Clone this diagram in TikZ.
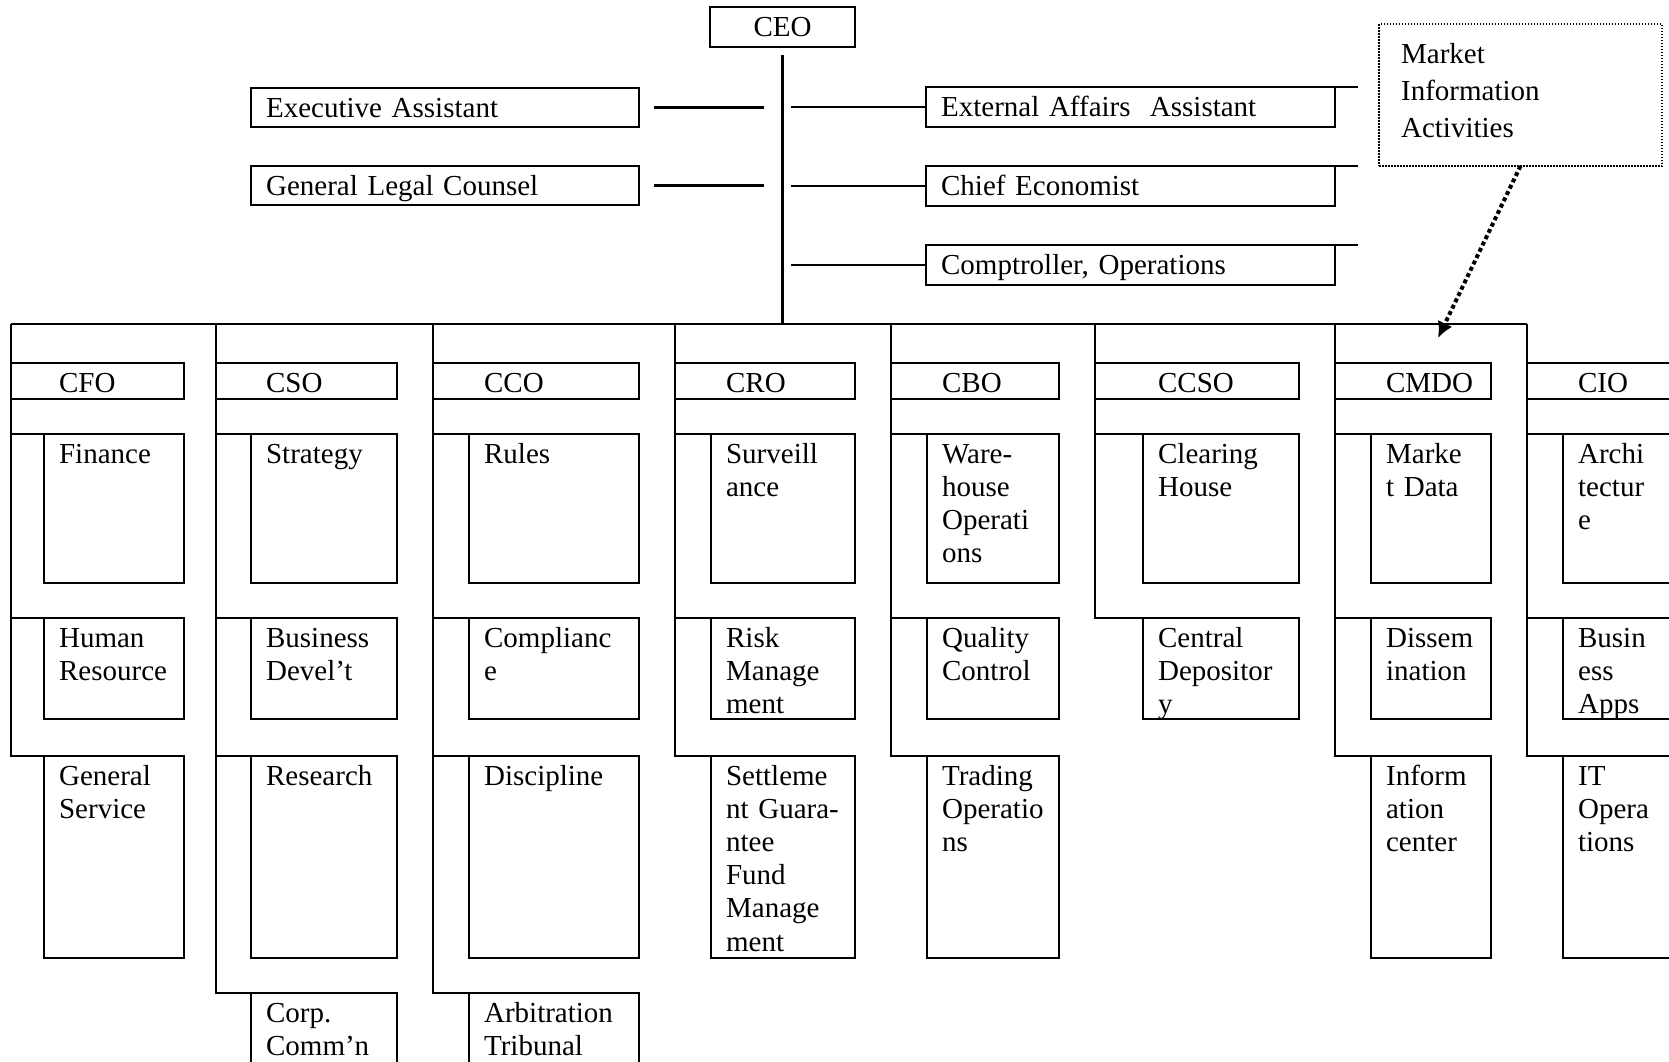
\documentclass[tikz,border=0pt]{standalone}
\usepackage{fontspec}
\setmainfont{Liberation Serif}
\usetikzlibrary{arrows.meta}

\begin{document}
\begin{tikzpicture}[x=0.5pt,y=-0.5pt,line width=1.1pt,
    unit/.style={draw,rectangle,anchor=north west,inner sep=0pt,outer sep=0pt},
    txt/.style={anchor=base west,inner sep=0pt,text width=10cm,align=left,font=\fontsize{14.5}{16.6}\selectfont},
    sub/.style={txt,xshift=7pt,yshift=-14.5pt},
    staff/.style={unit,minimum width=194pt,minimum height=19.5pt},
    aside/.style={unit,minimum width=204.5pt,minimum height=20pt},
    head/.style={unit,minimum height=18pt},
    rowa/.style={unit,minimum height=74.5pt},
    rowb/.style={unit,minimum height=50.5pt},
    rowc/.style={unit,minimum height=101pt},
    rowd/.style={unit,minimum height=75pt},
    note/.style={unit,line width=0.75pt,dash pattern=on 0.75pt off 0.75pt,minimum width=141.5pt,minimum height=71pt},
    pointer/.style={line width=2pt,dash pattern=on 2pt off 1.5pt,-{Latex[length=8pt,width=8pt]}}]
    \useasboundingbox (0,0) rectangle (1669,1061);
    \clip (0,0) rectangle (1669,1061);

    % top of the chart
    \node[unit,anchor=north west,minimum width=72.5pt,minimum height=20pt,font=\fontsize{14.5}{16.6}\selectfont] (ceo) at (710,7) {CEO};
    \node[staff,label={[sub]north west:{Executive Assistant}}] (ea) at (251,88) {};
    \node[staff,label={[sub]north west:{General Legal Counsel}}] (glc) at (251,166) {};
    \node[aside,label={[sub]north west:{External Affairs~ Assistant}}] (eaa) at (926,87) {};
    \node[aside,label={[sub]north west:{Chief Economist}}] (ce) at (926,166) {};
    \node[aside,label={[sub]north west:{Comptroller, Operations}}] (cop) at (926,245) {};
    \node[note,label={[txt,font=\fontsize{14.5}{18.5}\selectfont,xshift=10.5pt,yshift=-19.5pt]north west:{Market\\Information\\Activities}}] (mia) at (1379,24) {};
    \coordinate (bus) at (0,324);
    \coordinate (mdtip) at (1438,338);

    % chiefs
    \node[head,minimum width=86.5pt,label={[txt,xshift=23.5pt,yshift=-14.5pt]north west:CFO}] (cfo) at (11,363) {};
    \node[head,minimum width=90.5pt,label={[txt,xshift=24.5pt,yshift=-14.5pt]north west:CSO}] (cso) at (216,363) {};
    \node[head,minimum width=103pt,label={[txt,xshift=25pt,yshift=-14.5pt]north west:CCO}] (cco) at (433,363) {};
    \node[head,minimum width=90pt,label={[txt,xshift=25pt,yshift=-14.5pt]north west:CRO}] (cro) at (675,363) {};
    \node[head,minimum width=84pt,label={[txt,xshift=25pt,yshift=-14.5pt]north west:CBO}] (cbo) at (891,363) {};
    \node[head,minimum width=102pt,label={[txt,xshift=31pt,yshift=-14.5pt]north west:CCSO}] (ccso) at (1095,363) {};
    \node[head,minimum width=78pt,label={[txt,xshift=25pt,yshift=-14.5pt]north west:CMDO}] (cmdo) at (1335,363) {};
    \node[head,minimum width=100pt,label={[txt,xshift=25pt,yshift=-14.5pt]north west:CIO}] (cio) at (1527,363) {};

    % units under the CFO
    \node[rowa,minimum width=70pt,label={[sub]north west:Finance}] (fin) at (44,434) {};
    \node[rowb,minimum width=70pt,label={[sub]north west:{Human\\Resource}}] (hr) at (44,618) {};
    \node[rowc,minimum width=70pt,label={[sub]north west:{General\\Service}}] (gs) at (44,756) {};

    % units under the CSO
    \node[rowa,minimum width=73pt,label={[sub]north west:Strategy}] (strat) at (251,434) {};
    \node[rowb,minimum width=73pt,label={[sub]north west:{Business\\Devel't}}] (bd) at (251,618) {};
    \node[rowc,minimum width=73pt,label={[sub]north west:Research}] (res) at (251,756) {};
    \node[rowd,minimum width=73pt,label={[sub]north west:{Corp.\\Comm'n}}] (cc) at (251,993) {};

    % units under the CCO
    \node[rowa,minimum width=85pt,label={[sub]north west:Rules}] (rules) at (469,434) {};
    \node[rowb,minimum width=85pt,label={[sub]north west:{Complianc\\e}}] (comp) at (469,618) {};
    \node[rowc,minimum width=85pt,label={[sub]north west:Discipline}] (disc) at (469,756) {};
    \node[rowd,minimum width=85pt,label={[sub]north west:{Arbitration\\Tribunal}}] (arb) at (469,993) {};

    % units under the CRO
    \node[rowa,minimum width=72pt,label={[sub]north west:{Surveill\\ance}}] (surv) at (711,434) {};
    \node[rowb,minimum width=72pt,label={[sub]north west:{Risk\\Manage\\ment}}] (risk) at (711,618) {};
    \node[rowc,minimum width=72pt,label={[sub]north west:{Settleme\\nt Guara-\\ntee\\Fund\\Manage\\ment}}] (sgf) at (711,756) {};

    % units under the CBO
    \node[rowa,minimum width=66pt,label={[sub]north west:{Ware-\\house\\Operati\\ons}}] (ware) at (927,434) {};
    \node[rowb,minimum width=66pt,label={[sub]north west:{Quality\\Control}}] (qc) at (927,618) {};
    \node[rowc,minimum width=66pt,label={[sub]north west:{Trading\\Operatio\\ns}}] (trad) at (927,756) {};

    % units under the CCSO
    \node[rowa,minimum width=78pt,label={[sub]north west:{Clearing\\House}}] (clear) at (1143,434) {};
    \node[rowb,minimum width=78pt,label={[sub]north west:{Central\\Depositor\\y}}] (cd) at (1143,618) {};

    % units under the CMDO
    \node[rowa,minimum width=60pt,label={[sub]north west:{Marke\\t Data}}] (mdata) at (1371,434) {};
    \node[rowb,minimum width=60pt,label={[sub]north west:{Dissem\\ination}}] (diss) at (1371,618) {};
    \node[rowc,minimum width=60pt,label={[sub]north west:{Inform\\ation\\center}}] (info) at (1371,756) {};

    % units under the CIO
    \node[rowa,minimum width=100pt,label={[sub]north west:{Archi\\tectur\\e}}] (arch) at (1563,434) {};
    \node[rowb,minimum width=100pt,label={[sub]north west:{Busin\\ess\\Apps}}] (bapps) at (1563,618) {};
    \node[rowc,minimum width=100pt,label={[sub]north west:{IT\\Opera\\tions}}] (itops) at (1563,756) {};

    % lines from the CEO
    \draw ([yshift=-4pt]ceo.south) -- (ceo.south |- bus);
    \draw ([xshift=7.5pt]ea.east) -- ([xshift=62.5pt]ea.east);
    \draw ([xshift=7.5pt]glc.east) -- ([xshift=62.5pt]glc.east);
    \draw ([xshift=-67.5pt]eaa.west) -- (eaa.west);
    \draw ([xshift=-67.5pt]ce.west) -- (ce.west);
    \draw ([xshift=-67.5pt]cop.west) -- (cop.west);
    \draw (eaa.north east) -- ([xshift=11.5pt]eaa.north east);
    \draw (ce.north east) -- ([xshift=11.5pt]ce.north east);
    \draw (cop.north east) -- ([xshift=11.5pt]cop.north east);
    \draw[pointer] (mia.south) -- (mdtip);
    \draw (cfo.north west |- bus) -- (cio.north west |- bus);

    % columns
    \draw (cfo.north west |- bus) |- (gs.north west);
    \draw (cfo.north west |- fin.north) -- (fin.north west);
    \draw (cfo.north west |- hr.north) -- (hr.north west);

    \draw (cso.north west |- bus) |- (cc.north west);
    \draw (cso.north west |- strat.north) -- (strat.north west);
    \draw (cso.north west |- bd.north) -- (bd.north west);
    \draw (cso.north west |- res.north) -- (res.north west);

    \draw (cco.north west |- bus) |- (arb.north west);
    \draw (cco.north west |- rules.north) -- (rules.north west);
    \draw (cco.north west |- comp.north) -- (comp.north west);
    \draw (cco.north west |- disc.north) -- (disc.north west);

    \draw (cro.north west |- bus) |- (sgf.north west);
    \draw (cro.north west |- surv.north) -- (surv.north west);
    \draw (cro.north west |- risk.north) -- (risk.north west);

    \draw (cbo.north west |- bus) |- (trad.north west);
    \draw (cbo.north west |- ware.north) -- (ware.north west);
    \draw (cbo.north west |- qc.north) -- (qc.north west);

    \draw (ccso.north west |- bus) |- (cd.north west);
    \draw (ccso.north west |- clear.north) -- (clear.north west);

    \draw (cmdo.north west |- bus) |- (info.north west);
    \draw (cmdo.north west |- mdata.north) -- (mdata.north west);
    \draw (cmdo.north west |- diss.north) -- (diss.north west);

    \draw (cio.north west |- bus) |- (itops.north west);
    \draw (cio.north west |- arch.north) -- (arch.north west);
    \draw (cio.north west |- bapps.north) -- (bapps.north west);
\end{tikzpicture}
\end{document}
